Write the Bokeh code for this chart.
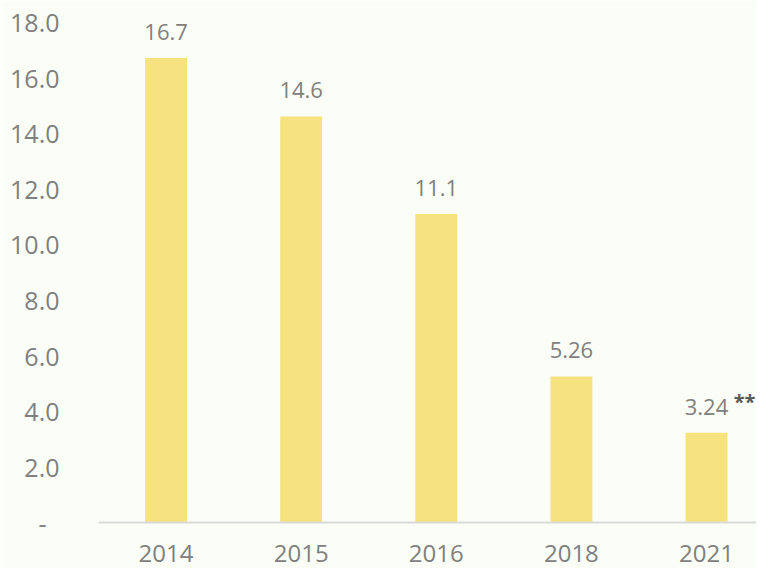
from bokeh.plotting import figure
from bokeh.models import Range1d, FixedTicker, CustomJSTickFormatter, ColumnDataSource
from bokeh.core.properties import value
from bokeh.embed import file_html
from bokeh.resources import INLINE

years = ["2014", "2015", "2016", "2018", "2021"]
values = [16.7, 14.6, 11.1, 5.26, 3.24]
labels = ["16.7", "14.6", "11.1", "5.26", "3.24"]
y_ticks = [0, 2, 4, 6, 8, 10, 12, 14, 16, 18]
note_text = "**"

FONT = "Open Sans"
GREY = "#808080"
BG = "#fbfef7"

xs = [i + 0.5 for i in range(len(years))]
src = ColumnDataSource(dict(x=xs, top=values, label=labels))

PX_PER_UNIT = 27.83
p = figure(width=756, height=568, output_backend="svg", toolbar_location=None,
           x_range=Range1d(0, 4.87), y_range=Range1d(-45.7 / PX_PER_UNIT, 18.3),
           min_border_left=98, min_border_right=0, min_border_top=13, min_border_bottom=0)
p.background_fill_color = BG
p.border_fill_color = BG
p.outline_line_color = None
p.grid.visible = False

p.vbar(x="x", top="top", bottom=0, width=0.31, source=src, fill_color="#f6e27f", line_color=None)
p.text(x="x", y="top", text="label", source=src, text_align="center", text_baseline="alphabetic",
       y_offset=-26, text_font=value(FONT), text_font_size="22px", text_color=GREY)
p.text(x=[xs[-1]], y=[values[-1]], text=[note_text], x_offset=49, y_offset=-31,
       text_align="right", text_baseline="alphabetic", text_font=value(FONT),
       text_font_size="20px", text_font_style="bold", text_color="#595959")

xa = p.xaxis[0]
xa.fixed_location = 0
xa.ticker = FixedTicker(ticks=xs)
xa.major_label_overrides = {x: y for x, y in zip(xs, years)}
xa.major_tick_line_color = None
xa.minor_tick_line_color = None
xa.axis_line_color = "#d9d9d9"
xa.axis_line_width = 2
xa.major_label_standoff = 16
xa.major_label_text_font = FONT
xa.major_label_text_font_size = "24px"
xa.major_label_text_color = GREY

ya = p.yaxis[0]
ya.ticker = FixedTicker(ticks=y_ticks)
ya.formatter = CustomJSTickFormatter(code="return tick == 0 ? '-\u00a0\u00a0' : tick.toFixed(1);")
ya.axis_line_color = None
ya.major_tick_line_color = None
ya.minor_tick_line_color = None
ya.major_label_standoff = 33
ya.major_label_text_font = FONT
ya.major_label_text_font_size = "25px"
ya.major_label_text_color = GREY

open("out.html", "w").write(file_html(p, INLINE))
